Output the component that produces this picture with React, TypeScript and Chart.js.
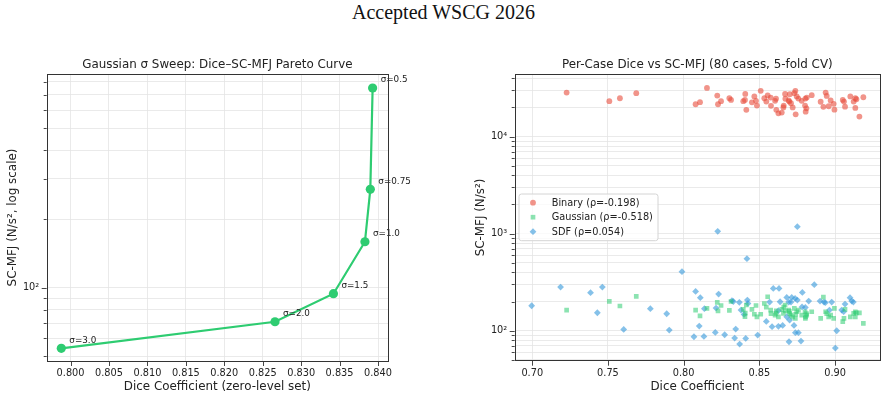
import React, { useEffect, useRef } from 'react';
import { Chart, registerables } from 'chart.js';

Chart.register(...registerables);
Chart.defaults.font.family = "'DejaVu Sans', 'Liberation Sans', sans-serif";
Chart.defaults.color = '#222';

const PAGE_TITLE = 'Accepted WSCG 2026';

// ---- Gaussian sigma sweep (left panel) ----
const SWEEP_TITLE = 'Gaussian σ Sweep: Dice–SC-MFJ Pareto Curve';
const SWEEP_X_LABEL = 'Dice Coefficient (zero-level set)';
const SWEEP_Y_LABEL = 'SC-MFJ (N/s², log scale)';
const SIGMA_LABELS = ['σ=0.5', 'σ=0.75', 'σ=1.0', 'σ=1.5', 'σ=2.0', 'σ=3.0'];
const SWEEP_DICE = [0.8393, 0.839, 0.8383, 0.8342, 0.8266, 0.7988];
const SWEEP_MFJ = [751, 270, 159, 94.1, 70.9, 54.2];
const SWEEP_X_TICKS = [0.8, 0.805, 0.81, 0.815, 0.82, 0.825, 0.83, 0.835, 0.84];
const SWEEP_Y_TICKS = [50, 60, 70, 80, 90, 100, 200, 300, 400, 500, 600, 700, 800];
const SWEEP_X_RANGE = [0.7969, 0.8413];
const SWEEP_Y_RANGE = [47.7, 865];

// ---- Per-case scatter (right panel) ----
const CASE_TITLE = 'Per-Case Dice vs SC-MFJ (80 cases, 5-fold CV)';
const CASE_X_LABEL = 'Dice Coefficient';
const CASE_Y_LABEL = 'SC-MFJ (N/s²)';
const SERIES_LABELS = ['Binary (ρ=-0.198)', 'Gaussian (ρ=-0.518)', 'SDF (ρ=0.054)'];

// Binary and Gaussian share the same per-case Dice values
const CASE_DICE = [
  0.7227, 0.7509, 0.7579, 0.7687, 0.8079, 0.8108, 0.8154, 0.8222, 0.8227, 0.8247,
  0.8302, 0.8313, 0.8394, 0.8405, 0.8407, 0.8414, 0.8451, 0.8467, 0.8478, 0.8484,
  0.8509, 0.8533, 0.8546, 0.8555, 0.8575, 0.8577, 0.8604, 0.861, 0.8612, 0.8626,
  0.8648, 0.8659, 0.8661, 0.867, 0.8672, 0.8694, 0.8698, 0.8701, 0.8709, 0.872,
  0.8731, 0.8738, 0.874, 0.8747, 0.8758, 0.878, 0.8802, 0.8804, 0.8806, 0.8811,
  0.8813, 0.8846, 0.8905, 0.8923, 0.8938, 0.8945, 0.8958, 0.8971, 0.8991, 0.8996,
  0.9051, 0.9059, 0.9066, 0.9101, 0.9123, 0.9134, 0.9134, 0.9141, 0.9161, 0.9187,
];
const BINARY_MFJ = [
  28500, 23200, 24900, 28100, 21600, 22700, 31800, 26500, 21600, 23200,
  24900, 23900, 23200, 23900, 27600, 18900, 22600, 26000, 23400, 20900,
  29700, 24900, 23000, 26600, 25300, 20800, 23400, 24600, 18900, 17400,
  17700, 20000, 20900, 27600, 24600, 23600, 23000, 27400, 22100, 20000,
  28100, 29700, 17000, 26000, 24700, 23400, 20900, 24700, 18100, 19600,
  25300, 26800, 22900, 20300, 28500, 26300, 20600, 23600, 21800, 19000,
  23900, 23000, 20400, 26000, 23000, 24900, 19800, 24300, 16100, 25500,
];
const GAUSSIAN_MFJ = [
  163, 201, 180, 226, 163, 142, 170, 196, 160, 182,
  162, 200, 166, 140, 152, 184, 166, 148, 182, 139,
  148, 191, 175, 224, 163, 150, 145, 151, 160, 139,
  166, 151, 175, 184, 160, 163, 158, 150, 145, 139,
  170, 134, 148, 157, 163, 145, 157, 134, 139, 150,
  145, 157, 134, 222, 157, 150, 139, 145, 134, 170,
  124, 134, 166, 139, 151, 139, 157, 153, 153, 119,
];
const SDF_DICE = [
  0.6996, 0.7187, 0.7385, 0.743, 0.7463, 0.7604, 0.778, 0.7888, 0.7905, 0.7989,
  0.8068, 0.8079, 0.8103, 0.811, 0.8134, 0.8137, 0.8209, 0.8214, 0.8225, 0.8231,
  0.8271, 0.8319, 0.8328, 0.8337, 0.8344, 0.8368, 0.837, 0.8379, 0.8399, 0.841,
  0.8418, 0.8421, 0.8425, 0.8489, 0.8546, 0.8568, 0.8584, 0.8592, 0.8626, 0.8626,
  0.863, 0.8637, 0.8654, 0.8681, 0.8681, 0.8694, 0.8696, 0.87, 0.8709, 0.8714,
  0.8729, 0.8736, 0.8738, 0.8751, 0.8751, 0.8758, 0.8775, 0.8782, 0.8784, 0.8804,
  0.8826, 0.8863, 0.8901, 0.8927, 0.8936, 0.8963, 0.8978, 0.9002, 0.9011, 0.9044,
  0.9057, 0.9066, 0.9099, 0.911, 0.9121,
];
const SDF_MFJ = [
  181, 282, 246.5, 153.3, 282, 103.2, 168.6, 149.6, 101.6, 405.7,
  86.7, 254.4, 111.7, 218.9, 87.4, 168.6, 96.1, 171.3, 1057, 238.8,
  90.9, 203.9, 200, 84, 104, 196, 72.9, 163.3, 147.3, 83.4,
  553, 207.1, 191, 90.2, 124.8, 197.5, 110, 273.2, 160.8, 111,
  273.2, 199, 113.5, 220.6, 139.4, 197.5, 77, 128.8, 197.5, 220.6,
  113.5, 215.4, 95.4, 1181, 207.1, 95.4, 78.2, 176, 248.4, 174,
  202.3, 298, 202.3, 197.5, 194.4, 163.3, 197.5, 66.3, 100, 163.3,
  157, 188.4, 218.9, 202.3, 197.5,
];
const CASE_X_TICKS = [0.7, 0.75, 0.8, 0.85, 0.9];
const CASE_Y_TICKS = [
  50, 60, 70, 80, 90,
  100, 200, 300, 400, 500, 600, 700, 800, 900,
  1000, 2000, 3000, 4000, 5000, 6000, 7000, 8000, 9000,
  10000, 20000, 30000, 40000,
];
const CASE_X_RANGE = [0.6884, 0.9297];
const CASE_Y_RANGE = [49.1, 43950];

const GREEN = '#2ecc71';
const RED_A = 'rgba(231, 76, 60, 0.6)';
const GREEN_A = 'rgba(46, 204, 113, 0.55)';
const BLUE_A = 'rgba(52, 152, 219, 0.6)';
const GRID = '#e4e4e4';
const INK = '#222';
const TICK_FONT = 9.75;
const LABEL_FONT = 11.9;
const FONT_FAMILY = "'DejaVu Sans', sans-serif";

const SUP = '⁰¹²³⁴⁵⁶⁷⁸⁹';
const isPow10 = (v: number) => Math.abs(Math.log10(v) - Math.round(Math.log10(v))) < 1e-9;
const logLabel = (v: number) =>
  isPow10(v) ? '10' + String(Math.round(Math.log10(v))).split('').map((d) => SUP[+d]).join('') : '';

const setTicks = (values: number[]) => (scale: any) => {
  scale.ticks = values.map((value) => ({ value }));
};

// Axes title centred over the plotting area
const axesTitlePlugin = {
  id: 'axesTitle',
  afterDraw(chart: any, _args: any, opts: any) {
    const { ctx, chartArea: a } = chart;
    ctx.save();
    ctx.fillStyle = INK;
    ctx.font = `${LABEL_FONT}px ${FONT_FAMILY}`;
    ctx.textAlign = 'center';
    ctx.textBaseline = 'middle';
    ctx.fillText(opts.text, (a.left + a.right) / 2, a.top - 9.2);
    ctx.restore();
  },
};

// Full box around the plotting area
const framePlugin = {
  id: 'frame',
  afterDraw(chart: any) {
    const { ctx, chartArea: a } = chart;
    ctx.save();
    ctx.strokeStyle = '#333';
    ctx.lineWidth = 1;
    ctx.strokeRect(Math.round(a.left) + 0.5, Math.round(a.top) + 0.5, Math.round(a.width), Math.round(a.height));
    ctx.restore();
  },
};

// Outward tick marks: long on labelled ticks, short on minor log ticks
const tickMarkPlugin = {
  id: 'tickMarks',
  afterDraw(chart: any) {
    const { ctx, chartArea: a } = chart;
    const xs = chart.scales.x;
    const ys = chart.scales.y;
    ctx.save();
    ctx.strokeStyle = '#333';
    ctx.lineWidth = 0.9;
    ctx.beginPath();
    xs.ticks.forEach((t: any) => {
      const px = Math.round(xs.getPixelForValue(t.value)) + 0.5;
      ctx.moveTo(px, a.bottom);
      ctx.lineTo(px, a.bottom + 5);
    });
    ys.ticks.forEach((t: any) => {
      const len = isPow10(t.value) ? 5 : 3;
      const py = Math.round(ys.getPixelForValue(t.value)) + 0.5;
      ctx.moveTo(a.left, py);
      ctx.lineTo(a.left - len, py);
    });
    ctx.stroke();
    ctx.restore();
  },
};

// sigma annotations next to each sweep point
const sigmaLabelPlugin = {
  id: 'sigmaLabels',
  afterDatasetsDraw(chart: any) {
    const { ctx } = chart;
    const meta = chart.getDatasetMeta(0);
    ctx.save();
    ctx.fillStyle = INK;
    ctx.font = `8.8px ${FONT_FAMILY}`;
    ctx.textAlign = 'left';
    ctx.textBaseline = 'middle';
    meta.data.forEach((pt: any, i: number) => {
      ctx.fillText(SIGMA_LABELS[i], pt.x + 8, pt.y - 8);
    });
    ctx.restore();
  },
};

function drawMarker(ctx: CanvasRenderingContext2D, style: string, x: number, y: number, r: number) {
  ctx.beginPath();
  if (style === 'circle') {
    ctx.arc(x, y, r, 0, Math.PI * 2);
  } else if (style === 'rect') {
    const h = r * Math.SQRT1_2;
    ctx.rect(x - h, y - h, 2 * h, 2 * h);
  } else {
    ctx.moveTo(x, y - r);
    ctx.lineTo(x + r, y);
    ctx.lineTo(x, y + r);
    ctx.lineTo(x - r, y);
    ctx.closePath();
  }
  ctx.fill();
}

// Legend box inside the plotting area
const caseLegendPlugin = {
  id: 'caseLegend',
  afterDraw(chart: any) {
    const { ctx, chartArea: a } = chart;
    const x0 = a.left + 4.3;
    const y0 = a.top + 119.7;
    const w = 139;
    const h = 46.7;
    const r = 2.5;
    ctx.save();
    ctx.beginPath();
    ctx.moveTo(x0 + r, y0);
    ctx.arcTo(x0 + w, y0, x0 + w, y0 + h, r);
    ctx.arcTo(x0 + w, y0 + h, x0, y0 + h, r);
    ctx.arcTo(x0, y0 + h, x0, y0, r);
    ctx.arcTo(x0, y0, x0 + w, y0, r);
    ctx.closePath();
    ctx.fillStyle = 'rgba(255,255,255,0.8)';
    ctx.fill();
    ctx.strokeStyle = '#d4d4d4';
    ctx.lineWidth = 1;
    ctx.stroke();
    ctx.font = `${TICK_FONT}px ${FONT_FAMILY}`;
    ctx.textAlign = 'left';
    ctx.textBaseline = 'middle';
    chart.data.datasets.forEach((ds: any, i: number) => {
      const cy = y0 + 8.7 + i * 14.5;
      ctx.fillStyle = ds.backgroundColor;
      drawMarker(ctx, ds.pointStyle, x0 + 14, cy, ds.pointRadius);
      ctx.fillStyle = INK;
      ctx.fillText(ds.label, x0 + 32.7, cy + 0.5);
    });
    ctx.restore();
  },
};

const gridOpts = { color: GRID, lineWidth: 0.8, drawTicks: false };

function xScale(range: number[], ticks: number[], digits: number, label: string, height: number) {
  return {
    type: 'linear',
    min: range[0],
    max: range[1],
    afterBuildTicks: setTicks(ticks),
    afterFit: (s: any) => {
      s.height = height;
    },
    grid: gridOpts,
    border: { display: false },
    ticks: {
      autoSkip: false,
      maxRotation: 0,
      padding: 7,
      color: INK,
      font: { size: TICK_FONT },
      callback: (v: any) => Number(v).toFixed(digits),
    },
    title: {
      display: true,
      text: label,
      color: INK,
      font: { size: LABEL_FONT, lineHeight: 1.2 },
      padding: { top: 0, bottom: 6.16 },
    },
  };
}

function yScale(range: number[], ticks: number[], label: string, width: number, titleGap: number) {
  return {
    type: 'logarithmic',
    min: range[0],
    max: range[1],
    afterBuildTicks: setTicks(ticks),
    afterFit: (s: any) => {
      s.width = width;
    },
    grid: gridOpts,
    border: { display: false },
    ticks: {
      autoSkip: false,
      padding: 7.5,
      color: INK,
      font: { size: TICK_FONT },
      callback: (v: any) => logLabel(Number(v)),
    },
    title: {
      display: true,
      text: label,
      color: INK,
      font: { size: LABEL_FONT, lineHeight: 1.2 },
      padding: { top: titleGap, bottom: 0 },
    },
  };
}

function SweepChart() {
  const ref = useRef<HTMLCanvasElement | null>(null);
  useEffect(() => {
    if (!ref.current) return;
    const chart = new Chart(ref.current, {
      type: 'scatter',
      data: {
        datasets: [
          {
            label: 'sweep',
            data: SWEEP_DICE.map((x, i) => ({ x, y: SWEEP_MFJ[i] })),
            showLine: true,
            borderColor: GREEN,
            backgroundColor: GREEN,
            borderWidth: 2.2,
            pointRadius: 4.6,
            pointBorderWidth: 0,
            pointHoverRadius: 4.6,
          },
        ],
      },
      options: {
        responsive: false,
        animation: false,
        events: [],
        layout: { padding: { left: 0, right: 55, top: 34, bottom: 0 } },
        plugins: {
          legend: { display: false },
          tooltip: { enabled: false },
          title: { display: false },
          axesTitle: { text: SWEEP_TITLE },
        },
        scales: {
          x: xScale(SWEEP_X_RANGE, SWEEP_X_TICKS, 3, SWEEP_X_LABEL, 39),
          y: yScale(SWEEP_Y_RANGE, SWEEP_Y_TICKS, SWEEP_Y_LABEL, 46.7, 5.4),
        },
      } as any,
      plugins: [axesTitlePlugin, framePlugin, tickMarkPlugin, sigmaLabelPlugin],
    });
    return () => chart.destroy();
  }, []);
  return (
    <div style={{ position: 'absolute', left: 0, top: 40, width: 443, height: 360 }}>
      <canvas ref={ref} width={443} height={360} style={{ width: 443, height: 360 }} />
    </div>
  );
}

function CaseChart() {
  const ref = useRef<HTMLCanvasElement | null>(null);
  useEffect(() => {
    if (!ref.current) return;
    const chart = new Chart(ref.current, {
      type: 'scatter',
      data: {
        datasets: [
          {
            label: SERIES_LABELS[0],
            data: CASE_DICE.map((x, i) => ({ x, y: BINARY_MFJ[i] })),
            pointStyle: 'circle',
            pointRadius: 2.9,
            pointBorderWidth: 0,
            backgroundColor: RED_A,
            borderColor: RED_A,
          },
          {
            label: SERIES_LABELS[1],
            data: CASE_DICE.map((x, i) => ({ x, y: GAUSSIAN_MFJ[i] })),
            pointStyle: 'rect',
            pointRadius: 3.3,
            pointBorderWidth: 0,
            backgroundColor: GREEN_A,
            borderColor: GREEN_A,
          },
          {
            label: SERIES_LABELS[2],
            data: SDF_DICE.map((x, i) => ({ x, y: SDF_MFJ[i] })),
            pointStyle: 'rectRot',
            pointRadius: 3.4,
            pointBorderWidth: 0,
            backgroundColor: BLUE_A,
            borderColor: BLUE_A,
          },
        ],
      },
      options: {
        responsive: false,
        animation: false,
        events: [],
        layout: { padding: { left: 0, right: 7, top: 34.3, bottom: 0 } },
        plugins: {
          legend: { display: false },
          tooltip: { enabled: false },
          title: { display: false },
          axesTitle: { text: CASE_TITLE },
        },
        scales: {
          x: xScale(CASE_X_RANGE, CASE_X_TICKS, 2, CASE_X_LABEL, 39.3),
          y: yScale(CASE_Y_RANGE, CASE_Y_TICKS, CASE_Y_LABEL, 71.7, 30.4),
        },
      } as any,
      plugins: [axesTitlePlugin, framePlugin, tickMarkPlugin, caseLegendPlugin],
    });
    return () => chart.destroy();
  }, []);
  return (
    <div style={{ position: 'absolute', left: 443, top: 40, width: 444, height: 360 }}>
      <canvas ref={ref} width={444} height={360} style={{ width: 444, height: 360 }} />
    </div>
  );
}

export default function App() {
  return (
    <div
      style={{
        position: 'absolute',
        left: 0,
        top: 0,
        width: 887,
        height: 400,
        background: '#fff',
        overflow: 'hidden',
      }}
    >
      <div
        style={{
          position: 'absolute',
          left: 0,
          top: 1.5,
          width: 887,
          textAlign: 'center',
          fontFamily: "'Liberation Serif', 'Times New Roman', serif",
          fontSize: 20,
          lineHeight: '20px',
          color: '#111',
        }}
      >
        {PAGE_TITLE}
      </div>
      <SweepChart />
      <CaseChart />
    </div>
  );
}
